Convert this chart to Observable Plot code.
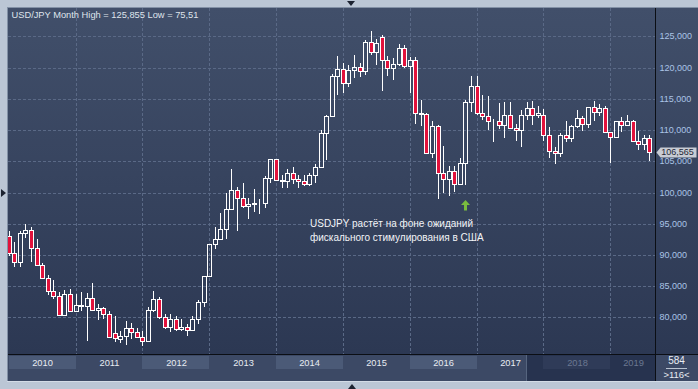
<!DOCTYPE html>
<html>
<head>
<meta charset="utf-8">
<script src="https://cdn.jsdelivr.net/npm/d3@7"></script>
<script src="https://cdn.jsdelivr.net/npm/@observablehq/plot@0.6"></script>
<style>
  html, body { margin: 0; padding: 0; background: #bbc6d5; }
  #wrap { position: relative; width: 698px; height: 389px; overflow: hidden; background: #bbc6d5; font-family: "Liberation Sans", Arial, sans-serif; }
  .abs { position: absolute; }
  #panel { left: 8px; top: 8px; width: 690px; height: 373px; background: #3c4965; }
  #chartbg { left: 8px; top: 8px; width: 690px; height: 346px; background: linear-gradient(#414f6a, #2c3853); }
  #edgeTop { left: 7px; top: 7px; width: 691px; height: 1px; background: #8391a6; }
  #edgeLeft { left: 7px; top: 7px; width: 1px; height: 375px; background: #8391a6; }
  #edgeBottom { left: 7px; top: 381px; width: 691px; height: 1px; background: #d3dbe6; }
  #hline { left: 8px; top: 354px; width: 690px; height: 1px; background: #0b0e14; }
  #vline { left: 655px; top: 8px; width: 1px; height: 373px; background: #0b0e14; }
  .tri { width: 0; height: 0; }
  #triTop { left: 347px; top: 1px; border-left: 4px solid transparent; border-right: 4px solid transparent; border-top: 5px solid #1c2331; }
  #triLeft { left: 1px; top: 189px; border-top: 4px solid transparent; border-bottom: 4px solid transparent; border-left: 5px solid #1c2331; }
  #triBottom { left: 348px; top: 384px; border-left: 4px solid transparent; border-right: 4px solid transparent; border-bottom: 5px solid #1c2331; }
  #cnt1 { left: 656px; width: 41px; top: 355px; text-align: center; color: #e8ecf2; font-size: 10px; line-height: 12px; }
  #cntLine { left: 666px; top: 368px; width: 21px; height: 1px; background: #b9c3d1; }
  #cnt2 { left: 656px; width: 41px; top: 369px; text-align: center; color: #e8ecf2; font-size: 9.5px; line-height: 12px; }
</style>
</head>
<body>
<div id="wrap">
  <div id="panel" class="abs"></div>
  <div id="chartbg" class="abs"></div>
  <div id="edgeTop" class="abs"></div>
  <div id="edgeLeft" class="abs"></div>
  <div id="edgeBottom" class="abs"></div>
  <div id="triTop" class="abs tri"></div>
  <div id="triLeft" class="abs tri"></div>
  <div id="triBottom" class="abs tri"></div>
  <div id="cnt1" class="abs">584</div>
  <div id="cntLine" class="abs"></div>
  <div id="cnt2" class="abs">&gt;116&lt;</div>
</div>
<script>
// ---- data (USD/JPY monthly, Jan 2010 – Aug 2019) ----
const open = [
  93.0, 90.3, 88.9, 93.5, 94.0, 91.2, 88.4, 86.4, 84.2, 83.5, 80.4, 83.7,
  81.1, 82.0, 81.8, 83.1, 81.2, 81.5, 80.5, 77.5, 76.6, 77.0, 78.3, 77.6,
  76.9, 76.2, 81.2, 82.9, 80.0, 78.4, 79.8, 78.1, 78.4, 77.95, 79.8, 82.5,
  86.6, 91.7, 92.5, 94.2, 97.4, 100.4, 99.1, 97.9, 98.2, 98.3, 98.4, 102.4,
  105.3, 102.0, 101.8, 103.2, 102.2, 101.8, 101.3, 102.8, 104.1, 109.6, 112.3, 118.6,
  119.8, 117.5, 119.6, 120.1, 119.4, 124.1, 122.5, 124.9, 121.2, 119.9, 120.6, 123.1,
  120.2, 121.2, 112.7, 112.6, 106.3, 110.7, 103.2, 102.1, 103.4, 101.3, 104.8, 114.5,
  117.0, 112.8, 112.3, 111.4, 111.5, 110.8, 112.4, 110.3, 110.0, 112.5, 113.6, 112.5,
  112.5, 109.2, 106.7, 106.3, 109.3, 108.8, 110.7, 111.9, 111.0, 113.7, 112.9, 113.5,
  109.7, 108.9, 111.4, 110.85, 111.4, 108.3, 107.85, 108.75
];
const close = [
  90.3, 88.9, 93.5, 94.0, 91.2, 88.4, 86.4, 84.2, 83.5, 80.4, 83.7, 81.1,
  82.0, 81.8, 83.1, 81.2, 81.5, 80.5, 76.9, 76.7, 77.0, 78.3, 77.6, 76.9,
  76.2, 81.2, 82.9, 80.0, 78.4, 79.8, 78.1, 78.4, 77.95, 79.8, 82.5, 86.6,
  91.7, 92.5, 94.2, 97.4, 100.4, 99.1, 97.9, 98.2, 98.3, 98.4, 102.4, 105.3,
  102.0, 101.8, 103.2, 102.2, 101.8, 101.3, 102.8, 104.1, 109.6, 112.3, 118.6, 119.8,
  117.5, 119.6, 120.1, 119.4, 124.1, 122.5, 123.9, 121.2, 119.9, 120.6, 123.1, 120.2,
  121.2, 112.7, 112.6, 106.3, 110.7, 103.2, 102.1, 103.4, 101.3, 104.8, 114.5, 117.0,
  112.8, 112.3, 111.4, 111.5, 110.8, 112.4, 110.3, 110.0, 112.5, 113.6, 112.5, 112.7,
  109.2, 106.7, 106.3, 109.3, 108.8, 110.7, 111.9, 111.0, 113.7, 112.9, 113.5, 109.7,
  108.9, 111.4, 110.85, 111.4, 108.3, 107.85, 108.75, 106.565
];
const high = [
  93.8, 92.1, 93.8, 95.0, 94.5, 92.5, 88.8, 86.8, 86.0, 84.1, 84.4, 84.5,
  83.7, 84.0, 83.9, 85.5, 82.2, 81.7, 81.0, 80.2, 77.9, 79.5, 79.1, 78.3,
  77.9, 81.7, 84.2, 83.3, 80.5, 80.6, 80.2, 79.7, 79.0, 80.3, 82.8, 86.6,
  91.8, 94.5, 96.7, 99.9, 103.7, 100.9, 101.5, 99.1, 100.6, 99.0, 102.6, 105.4,
  105.4, 102.8, 103.8, 104.1, 102.8, 102.8, 103.1, 104.5, 110.1, 112.5, 119.0, 121.9,
  120.8, 120.5, 122.0, 120.8, 124.5, 125.9, 124.6, 125.3, 121.8, 121.5, 123.8, 123.7,
  121.7, 121.7, 114.9, 112.7, 111.5, 110.9, 107.5, 104.3, 104.3, 105.5, 114.8, 118.7,
  118.6, 115.6, 115.5, 111.8, 114.4, 114.5, 114.5, 111.0, 113.3, 114.5, 114.7, 113.8,
  113.4, 110.5, 107.3, 109.6, 111.4, 110.9, 113.2, 112.2, 113.7, 114.6, 114.2, 113.8,
  109.7, 111.5, 112.1, 112.4, 111.7, 109.9, 109.3, 109.3
];
const low = [
  89.8, 88.1, 88.1, 92.8, 88.9, 88.4, 86.2, 83.6, 82.9, 80.2, 80.2, 81.0,
  81.0, 81.0, 76.3, 81.2, 79.6, 79.7, 76.8, 76.0, 75.9, 75.6, 76.6, 76.9,
  75.4, 76.1, 80.9, 79.8, 78.1, 77.7, 77.8, 77.9, 77.1, 77.8, 79.0, 81.7,
  86.5, 90.9, 92.5, 92.6, 97.3, 93.8, 97.6, 95.8, 96.9, 96.6, 97.6, 101.6,
  101.8, 100.8, 100.8, 101.4, 100.8, 101.1, 101.1, 101.5, 104.1, 105.2, 112.2, 115.6,
  115.9, 116.9, 118.3, 118.5, 118.9, 122.0, 120.4, 116.2, 118.6, 118.1, 120.2, 120.0,
  116.0, 111.0, 110.7, 106.3, 105.5, 99.0, 100.0, 99.5, 100.1, 101.2, 101.2, 112.9,
  112.5, 111.7, 110.1, 108.1, 110.2, 108.8, 110.6, 108.3, 107.3, 111.7, 110.8, 111.9,
  108.3, 105.5, 104.6, 105.7, 108.1, 108.1, 110.3, 109.8, 110.4, 111.4, 112.3, 109.6,
  104.8, 108.7, 109.7, 110.8, 108.3, 106.8, 106.8, 105.0
];
const years = [2010, 2011, 2012, 2013, 2014, 2015, 2016, 2017, 2018, 2019];
const yTicks = [80, 85, 90, 95, 100, 105, 110, 115, 120, 125];
const titleText = "USD/JPY Month High = 125,855 Low = 75,51";
const noteText = "USDJPY растёт на фоне ожиданий\nфискального стимулирования в США";
const noteMonth = 82;          // Nov 2016
const dimFromMonth = 92.86;    // start of the shaded part of the time bar

// ---- layout / style ----
const xDomain = [-0.117, 116.02];
const yDomain = [74.15, 129.56];
const RED = "#e2123c", WHITE = "#ffffff", GRID = "#5a6986";
const fontFamily = '"Liberation Sans", Arial, sans-serif';
const fmt = v => d3.format(".3f")(v).replace(".", ",");
const crisp = "crispEdges";

const candles = close.map((c, i) => ({i, open: open[i], high: high[i], low: low[i], close: c}));
const janIdx = years.slice(1).map((y, k) => (k + 1) * 12);
const last = candles[candles.length - 1];

const arrowSymbol = {draw(ctx) {
  ctx.moveTo(0, -5.5); ctx.lineTo(4.5, -0.5); ctx.lineTo(1.5, -0.5); ctx.lineTo(1.5, 5);
  ctx.lineTo(-1.5, 5); ctx.lineTo(-1.5, -0.5); ctx.lineTo(-4.5, -0.5); ctx.closePath();
}};
const tagSymbol = {draw(ctx) {
  ctx.moveTo(1, 0); ctx.lineTo(5, -5); ctx.lineTo(41, -5); ctx.lineTo(41, 5); ctx.lineTo(5, 5); ctx.closePath();
}};

const main = Plot.plot({
  width: 698, height: 389,
  marginLeft: 8, marginRight: 43, marginTop: 8, marginBottom: 35,
  style: {position: "absolute", left: "0px", top: "0px", background: "transparent", overflow: "visible",
          fontFamily, fontSize: "9px", color: "#aac4e6"},
  x: {domain: xDomain, axis: null, round: true},
  y: {domain: yDomain, round: true, axis: "right", ticks: yTicks, tickSize: 0, tickPadding: 4,
      tickFormat: fmt, label: null},
  marks: [
    Plot.ruleY(yTicks, {stroke: GRID, strokeDasharray: "3,2", shapeRendering: crisp}),
    Plot.ruleX(janIdx, {stroke: GRID, strokeDasharray: "3,2", shapeRendering: crisp}),
    Plot.ruleX(candles, {x: "i", y1: d => Math.max(d.open, d.close), y2: "high", stroke: WHITE, clip: true, shapeRendering: crisp}),
    Plot.ruleX(candles, {x: "i", y1: "low", y2: d => Math.min(d.open, d.close), stroke: WHITE, clip: true, shapeRendering: crisp}),
    Plot.rect(candles, {x1: "i", x2: "i", y1: "open", y2: "close", insetLeft: -2, insetRight: -2,
      fill: d => d.close < d.open ? RED : "none", stroke: WHITE, strokeWidth: 1, clip: true, shapeRendering: crisp}),
    Plot.text([titleText], {frameAnchor: "top-left", text: d => d, dx: 3, dy: 7, lineAnchor: "middle",
      textAnchor: "start", fill: "#dfe4ec", fontSize: 9.3}),
    Plot.dot([candles[noteMonth]], {x: "i", y: "low", dy: 20, symbol: arrowSymbol, fill: "#79bb3e", stroke: "none"}),
    Plot.text([candles[noteMonth]], {x: "i", y: "low", text: () => noteText, dx: -155.5, dy: 44,
      textAnchor: "start", lineAnchor: "middle", lineHeight: 1.4, fill: "#f2f4f7", fontSize: 10}),
    Plot.dot([last], {x: () => xDomain[1], y: "close", symbol: tagSymbol, fill: "#c8ccd4", stroke: "none"}),
    Plot.text([last], {x: () => xDomain[1], y: "close", text: d => fmt(d.close), dx: 22,
      textAnchor: "middle", fill: "#1e2736", fontSize: 9})
  ]
});

const yearData = years.map((y, k) => {
  const start = k * 12, end = Math.min(start + 12, xDomain[1]);
  return {year: y, start, end, mid: (start + end) / 2, band: k % 2 === 0, dim: start + 6 > dimFromMonth};
});

const row = Plot.plot({
  width: 698, height: 27,
  marginLeft: 8, marginRight: 43, marginTop: 2, marginBottom: 12,
  style: {position: "absolute", left: "0px", top: "354px", background: "transparent", overflow: "visible", fontFamily},
  x: {domain: xDomain, axis: null, round: true},
  marks: [
    Plot.rect([dimFromMonth], {x1: d => d, x2: () => xDomain[1], fill: "#27334f", insetTop: -1, insetBottom: -12}),
    Plot.ruleX([dimFromMonth], {stroke: "#56657f", insetTop: -1, insetBottom: -12, shapeRendering: crisp}),
    Plot.rect(yearData.filter(d => d.band), {x1: "start", x2: "end",
      fill: d => d.dim ? "#2f3b58" : "#4b5a77"}),
    Plot.text(yearData, {x: "mid", text: d => String(d.year), frameAnchor: "middle",
      fill: d => d.dim ? "#6b7891" : "#e8ecf2", fontSize: 9.3})
  ]
});

const wrap = document.getElementById("wrap");
wrap.appendChild(main);
wrap.appendChild(row);
["hline", "vline"].forEach(id => {
  const el = document.createElement("div");
  el.id = id; el.className = "abs";
  wrap.appendChild(el);
});
</script>
</body>
</html>
